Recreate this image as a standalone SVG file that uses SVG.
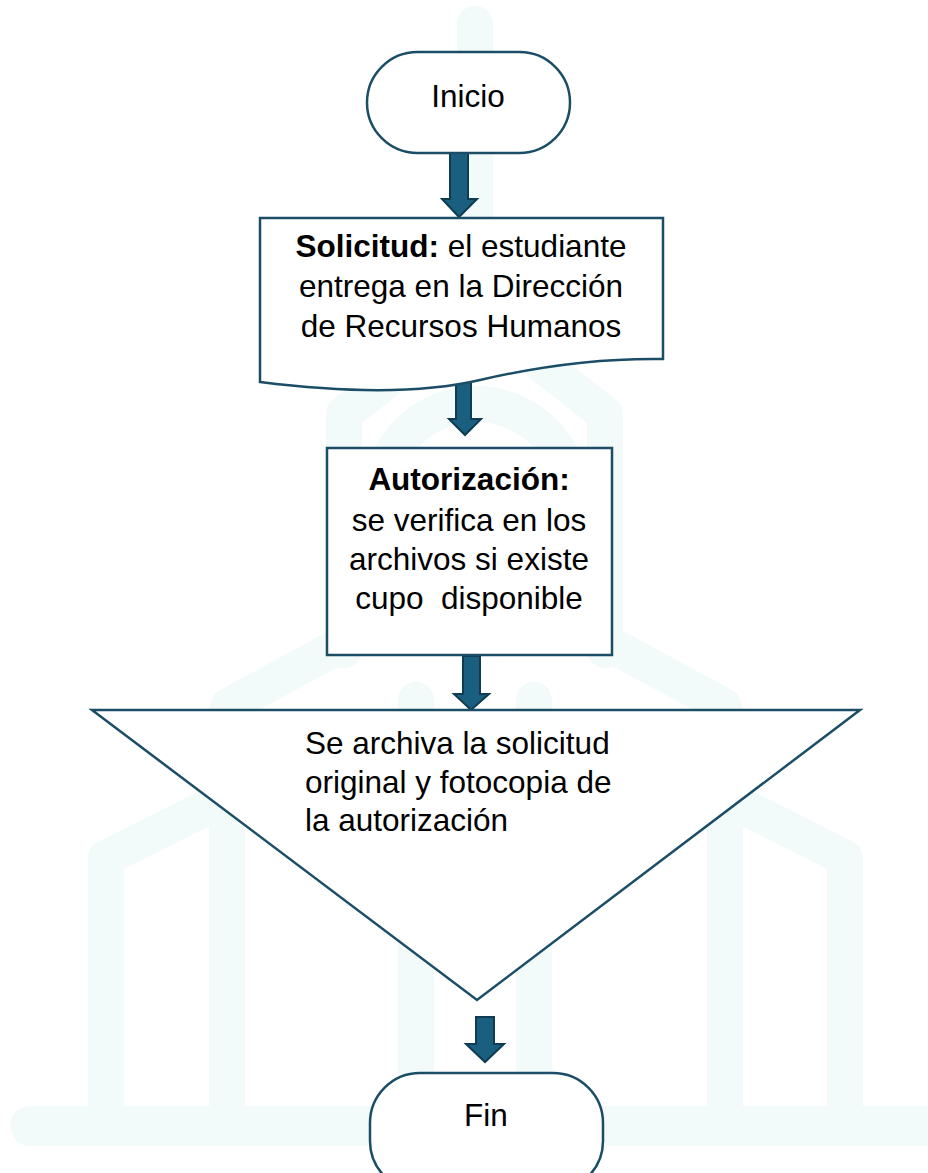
<svg xmlns="http://www.w3.org/2000/svg" width="928" height="1173" viewBox="0 0 928 1173">
<style>
.wm{fill:none;stroke:#f3fafa;stroke-width:36;stroke-linejoin:round;stroke-linecap:round}
.node{fill:#ffffff;stroke:#1b4e66;stroke-width:2.5}
.arrow{fill:#1b5f80;stroke:#0f3c52;stroke-width:2;stroke-linejoin:miter}
text{font-family:"Liberation Sans",Arial,sans-serif;font-size:31.5px;fill:#000000}
.c{text-anchor:middle}
.b{font-weight:bold}
</style>
<rect width="928" height="1173" fill="#ffffff"/>
<g id="watermark">
<line class="wm" x1="475" y1="24" x2="475" y2="320"/>
<polyline class="wm" points="344,650 344,414 475,312 605,414 605,650"/>
<path class="wm" stroke-width="30" d="M380 500 A96 96 0 0 1 572 500"/>
<polyline class="wm" points="228,706 476,572 724,706"/>
<line class="wm" x1="416" y1="700" x2="416" y2="1120"/>
<line class="wm" x1="534" y1="700" x2="534" y2="1120"/>
<polyline class="wm" points="106,1120 106,858 227,797 227,1120"/>
<polyline class="wm" points="845,1120 845,858 725,797 725,1120"/>
<rect x="10" y="1106" width="940" height="40" rx="20" fill="#f3fafa"/>
</g>
<g id="connectors">
<polygon class="arrow" points="450,153 468,153 468,199 477,199 459,217 442,199 450,199"/>
<polygon class="arrow" points="456,381 471,381 471,419 481,419 465,435 449,419 456,419"/>
<polygon class="arrow" points="463,656 480,656 480,694 489,694 471,710 454,694 463,694"/>
<polygon class="arrow" points="476,1017 494,1017 494,1044 504,1044 485,1062 466,1044 476,1044"/>
</g>
<g id="inicio">
<rect class="node" x="367" y="52" width="203" height="101" rx="50.5"/>
<text class="c" x="468" y="107">Inicio</text>
</g>
<g id="solicitud">
<path class="node" d="M260 218 H663 V359 C600 358 540 366 480 380 C420 394 340 392 260 382 Z"/>
<text class="c" x="461" y="257"><tspan class="b">Solicitud:</tspan> el estudiante</text>
<text class="c" x="461" y="297">entrega en la Dirección</text>
<text class="c" x="461" y="337">de Recursos Humanos</text>
</g>
<g id="autorizacion">
<rect class="node" x="327" y="448" width="285" height="207"/>
<text class="c b" x="469" y="490">Autorización:</text>
<text class="c" x="469" y="531">se verifica en los</text>
<text class="c" x="469" y="570">archivos si existe</text>
<text class="c" x="469" y="609" xml:space="preserve">cupo  disponible</text>
</g>
<g id="archivo">
<polygon class="node" points="92,710 860,710 477,1000"/>
<text x="305" y="754">Se archiva la solicitud</text>
<text x="305" y="793">original y fotocopia de</text>
<text x="305" y="831">la autorización</text>
</g>
<g id="fin">
<rect class="node" x="370" y="1073" width="233" height="118" rx="50"/>
<text class="c" x="486" y="1126">Fin</text>
</g>
</svg>
